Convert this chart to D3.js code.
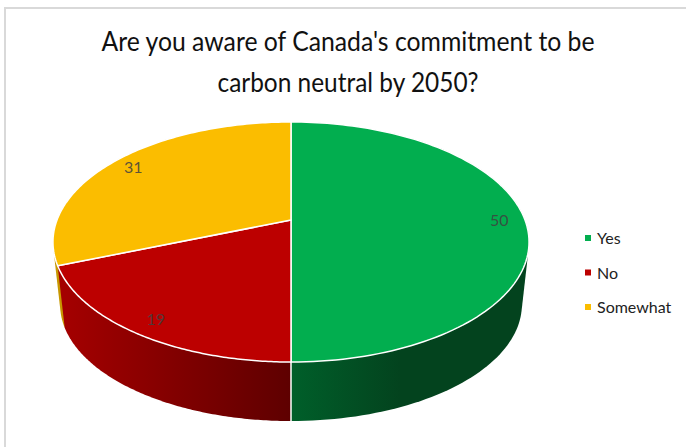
<!DOCTYPE html>
<html><head><meta charset="utf-8">
<script src="https://cdn.jsdelivr.net/npm/d3@7"></script>
<style>html,body{margin:0;padding:0;background:#fff}svg{display:block}text{font-family:Lato,"Open Sans",sans-serif}</style>
</head><body><svg id="c" width="686" height="447"></svg>
<script>
const titleLines = ["Are you aware of Canada's commitment to be", "carbon neutral by 2050?"];
const titleWidths = [493, 261];
const categories = ["Yes", "No", "Somewhat"];
const values = [50, 19, 31];
const topColors = ["#02AE4F", "#BC0000", "#FBBD00"];
const wallDark = [["#005F2A", "#03431E"], ["#5E0000", "#A50000"], ["#C79700", "#C79700"]];

const svg = d3.select("#c");
const cx = 291, apexY = 220, bx = 234, ay = 116, k = -0.1833;
const depthScale = 0.97, wallBottom = 421;
const lowerApexY = wallBottom - 142 * depthScale;

function project(theta, r, lower) {
  const s = lower ? depthScale : 1, y0 = lower ? lowerApexY : apexY;
  const u = r * Math.sin(theta), v = -r * Math.cos(theta), d = 1 + k * v;
  return [cx + s * bx * u / d, y0 + s * ay * v / d];
}
const pie = d3.pie().sort(null).startAngle(0).endAngle(2 * Math.PI);
const arcs = pie(values);
const samples = (a, b) => d3.range(0, 121).map(i => a + (b - a) * i / 120);
const line = d3.line();

const defs = svg.append("defs");
const gradExtent = [[291, 400], [291, 60], [54, 62]];
arcs.forEach((a, i) => {
  const g = defs.append("linearGradient").attr("id", "w" + i).attr("gradientUnits", "userSpaceOnUse")
    .attr("x1", gradExtent[i][0]).attr("x2", gradExtent[i][1]).attr("y1", 0).attr("y2", 0);
  g.append("stop").attr("offset", 0).attr("stop-color", wallDark[i][0]);
  g.append("stop").attr("offset", 1).attr("stop-color", wallDark[i][1]);
});

// frame
svg.append("path").attr("d", "M5 447V8H686").attr("fill", "none").attr("stroke", "#D9D9D9").attr("stroke-width", 2);

// title
svg.append("g").selectAll("text").data(titleLines).join("text")
  .attr("x", 348).attr("y", (d, i) => 51 + i * 41).attr("text-anchor", "middle")
  .attr("font-size", 26).attr("fill", "#111")
  .attr("textLength", (d, i) => titleWidths[i]).attr("lengthAdjust", "spacingAndGlyphs").text(d => d);

// walls, back to front
[2, 0, 1].forEach(i => {
  const a = arcs[i];
  const end = i === 2 ? a.startAngle + 0.55 : a.endAngle;
  const t = samples(a.startAngle, end);
  const pts = t.map(x => project(x, 1, false)).concat(t.map(x => project(x, 1, true)));
  svg.append("path").attr("d", line(d3.polygonHull(pts)) + "Z").attr("fill", `url(#w${i})`);
});
// wall divider
svg.append("path").attr("d", line([project(Math.PI, 1, false), project(Math.PI, 1, true)]))
  .attr("stroke", "#fff").attr("stroke-width", 1.5).attr("fill", "none");

// top faces
svg.append("g").selectAll("path").data(arcs).join("path")
  .attr("d", a => line([[cx, apexY]].concat(samples(a.startAngle, a.endAngle).map(x => project(x, 1, false)))) + "Z")
  .attr("fill", (a, i) => topColors[i]).attr("stroke", "#fff").attr("stroke-width", 1.5).attr("stroke-linejoin", "round");

// data labels
svg.append("g").selectAll("text").data(arcs).join("text")
  .attr("x", a => project((a.startAngle + a.endAngle) / 2, 0.89, false)[0])
  .attr("y", a => project((a.startAngle + a.endAngle) / 2, 0.89, false)[1] + 6)
  .attr("text-anchor", "middle").attr("font-size", 16).attr("fill", "#404040").attr("fill-opacity", 0.85)
  .text(a => a.data);

// legend
const ly = d3.scalePoint().domain(categories).range([238, 307]);
const lg = svg.append("g").selectAll("g").data(categories).join("g");
lg.append("rect").attr("x", 585).attr("y", d => ly(d) - 3).attr("width", 6).attr("height", 6)
  .attr("fill", (d, i) => topColors[i]);
lg.append("text").attr("x", 597).attr("y", d => ly(d) + 6).attr("font-size", 16).attr("fill", "#222").text(d => d);
</script></body></html>
